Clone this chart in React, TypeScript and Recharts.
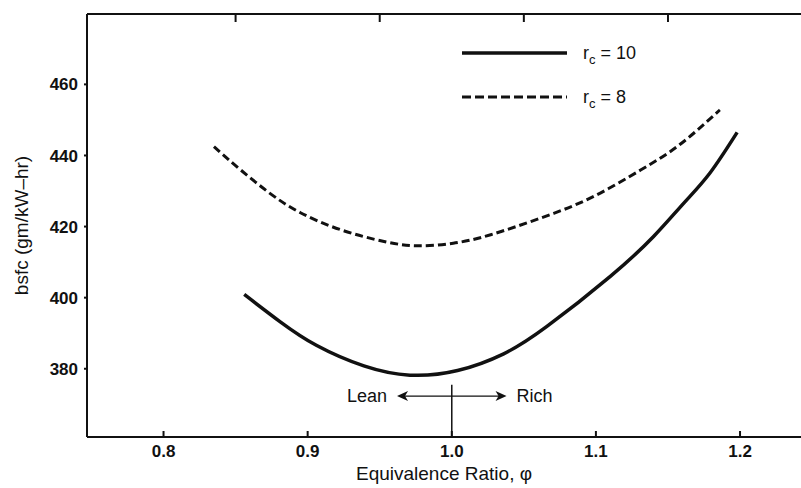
import React from "react";
import { LineChart, Line, XAxis, YAxis, ReferenceLine } from "recharts";

// r_c = 10 (solid)
const phi10 = [0.856, 0.881, 0.906, 0.939, 0.971, 1.004, 1.036, 1.066, 1.11, 1.14, 1.161, 1.179, 1.198];
const bsfc10 = [400.9, 393.2, 386.6, 380.8, 378.2, 379.5, 384.2, 391.9, 406.0, 417.2, 426.6, 435.0, 446.5];

// r_c = 8 (dashed)
const phi8 = [0.835, 0.849, 0.872, 0.895, 0.923, 0.953, 0.976, 1.001, 1.027, 1.061, 1.096, 1.131, 1.158, 1.186];
const bsfc8 = [442.5, 437.5, 429.9, 423.9, 419.1, 415.8, 414.6, 415.3, 417.7, 422.3, 428.0, 435.9, 443.0, 452.8];

const xTicks = [0.8, 0.9, 1.0, 1.1, 1.2];
const xTopTicks = [0.85, 0.95, 1.05, 1.15];
const yTicks = [380, 400, 420, 440, 460];

const FONT = "'Liberation Sans', Arial, Helvetica, sans-serif";
const INK = "#111";

const data10 = phi10.map((p, i) => ({ phi: p, bsfc: bsfc10[i] }));
const data8 = phi8.map((p, i) => ({ phi: p, bsfc: bsfc8[i] }));

const X_DOMAIN: [number, number] = [0.7469, 1.2423];
const Y_DOMAIN: [number, number] = [360.8, 479.8];

// legend drawn on top of the chart, like the printed figure
function LegendOverlay() {
  const row = (y: number, dashed: boolean, val: string) => (
    <g>
      <line
        x1={462}
        x2={567}
        y1={y}
        y2={y}
        stroke={INK}
        strokeWidth={dashed ? 3 : 3.5}
        strokeDasharray={dashed ? "9 4" : undefined}
      />
      <text x={583} y={y + 6} fontSize={18} fontFamily={FONT} fill={INK}>
        r
        <tspan fontSize={13} dy={5}>c</tspan>
        <tspan dy={-5}> = {val}</tspan>
      </text>
    </g>
  );
  return (
    <svg
      width={801}
      height={488}
      style={{ position: "absolute", left: 0, top: 0, pointerEvents: "none" }}
    >
      {row(53, false, "10")}
      {row(97, true, "8")}
    </svg>
  );
}

function ArrowShape(props: any) {
  const { x1, y1, x2, y2 } = props;
  const h = 5;
  return (
    <g>
      <line x1={x1 + 6} y1={y1} x2={x2 - 6} y2={y2} stroke={INK} strokeWidth={1.3} />
      <polygon points={`${x1},${y1} ${x1 + 11},${y1 - h} ${x1 + 8},${y1} ${x1 + 11},${y1 + h}`} fill={INK} />
      <polygon points={`${x2},${y2} ${x2 - 11},${y2 - h} ${x2 - 8},${y2} ${x2 - 11},${y2 + h}`} fill={INK} />
      <text x={x1 - 10} y={y1 + 6} textAnchor="end" fontSize={18} fontFamily={FONT} fill={INK}>
        Lean
      </text>
      <text x={x2 + 10} y={y2 + 6} textAnchor="start" fontSize={18} fontFamily={FONT} fill={INK}>
        Rich
      </text>
    </g>
  );
}

export default function App() {
  const tickStyle = { fontSize: 17, fontWeight: 700, fill: INK, fontFamily: FONT };
  return (
    <div style={{ position: "absolute", left: 0, top: 0, width: 801, height: 488, background: "#fff" }}>
      <LineChart width={801} height={488} margin={{ top: 0, right: 0, bottom: 0, left: 0 }}>
        <XAxis
          xAxisId="bottom"
          dataKey="phi"
          type="number"
          domain={X_DOMAIN}
          allowDataOverflow
          ticks={xTicks}
          tickFormatter={(v: number) => v.toFixed(1)}
          height={51}
          tick={tickStyle}
          tickSize={-6}
          tickMargin={14}
          stroke={INK}
          strokeWidth={2}
          label={{
            value: "Equivalence Ratio, φ",
            position: "insideBottom",
            offset: 8,
            fontSize: 19,
            fill: INK,
            fontFamily: FONT,
          }}
        />
        <XAxis
          xAxisId="top"
          orientation="top"
          dataKey="phi"
          type="number"
          domain={X_DOMAIN}
          allowDataOverflow
          ticks={xTopTicks}
          tickFormatter={() => ""}
          height={14}
          tickSize={-8}
          stroke={INK}
          strokeWidth={2}
        />
        <YAxis
          type="number"
          domain={Y_DOMAIN}
          allowDataOverflow
          ticks={yTicks}
          width={87}
          tick={tickStyle}
          tickSize={3}
          tickMargin={6}
          stroke={INK}
          strokeWidth={2}
          label={{
            value: "bsfc (gm/kW–hr)",
            angle: -90,
            position: "insideLeft",
            offset: 21,
            fontSize: 19,
            fill: INK,
            fontFamily: FONT,
            style: { textAnchor: "middle" },
          }}
        />
        <ReferenceLine
          xAxisId="bottom"
          segment={[{ x: 1.0, y: 360.8 }, { x: 1.0, y: 375.5 }]}
          stroke={INK}
          strokeWidth={1.5}
        />
        <ReferenceLine
          xAxisId="bottom"
          segment={[{ x: 0.962, y: 372.3 }, { x: 1.038, y: 372.3 }]}
          shape={ArrowShape}
        />
        <Line
          xAxisId="bottom"
          data={data8}
          dataKey="bsfc"
          name="rc8"
          type="natural"
          stroke={INK}
          strokeWidth={3}
          strokeDasharray="8 4"
          dot={false}
          isAnimationActive={false}
        />
        <Line
          xAxisId="bottom"
          data={data10}
          dataKey="bsfc"
          name="rc10"
          type="natural"
          stroke={INK}
          strokeWidth={3.5}
          dot={false}
          isAnimationActive={false}
        />
      </LineChart>
      <LegendOverlay />
    </div>
  );
}
